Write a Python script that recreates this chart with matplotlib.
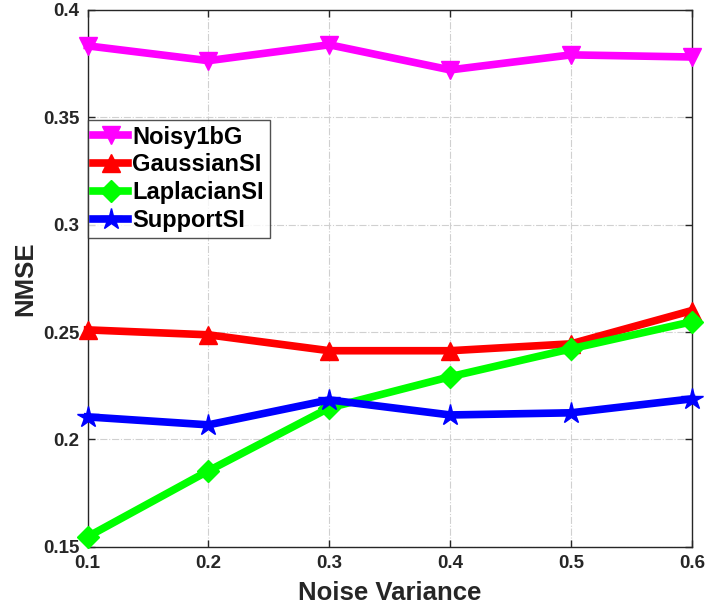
import matplotlib
matplotlib.use("Agg")
import matplotlib.pyplot as plt

x = [0.1, 0.2, 0.3, 0.4, 0.5, 0.6]
noisy1bg = [0.3832, 0.3763, 0.3837, 0.3720, 0.3790, 0.3780]
gaussian_si = [0.2510, 0.2487, 0.2413, 0.2413, 0.2445, 0.2600]
laplacian_si = [0.1547, 0.1854, 0.2147, 0.2292, 0.2422, 0.2548]
support_si = [0.2105, 0.2068, 0.2184, 0.2114, 0.2124, 0.2189]
labels = ["Noisy1bG", "GaussianSI", "LaplacianSI", "SupportSI"]
xticks = [0.1, 0.2, 0.3, 0.4, 0.5, 0.6]
yticks = [0.15, 0.2, 0.25, 0.3, 0.35, 0.4]

plt.rcParams['font.family'] = ['Liberation Sans', 'DejaVu Sans']
plt.rcParams['font.weight'] = 'bold'

fig = plt.figure(figsize=(7.06, 6.09), dpi=100)
ax = fig.add_axes([0.124, 0.102, 0.856, 0.882])

series = [noisy1bg, gaussian_si, laplacian_si, support_si]
colors = ['#ff00ff', '#ff0000', '#00ff00', '#0000ff']
markers = ['v', '^', 'D', '*']
msizes = [13, 13, 11, 16]
for s, c, m, ms, lab in zip(series, colors, markers, msizes, labels):
    ax.plot(x, s, color=c, marker=m, markersize=ms, linewidth=5.5,
            markeredgecolor=c, label=lab, clip_on=False, zorder=3)

ax.set_xlim(0.1, 0.6)
ax.set_ylim(0.15, 0.4)
ax.set_xticks(xticks)
ax.set_xticklabels([f"{t:g}" for t in xticks])
ax.set_yticks(yticks)
ax.set_yticklabels([f"{t:g}" for t in yticks])
ax.tick_params(direction='in', length=5, width=1, labelsize=13.5,
               colors='#262626', top=True, right=True, pad=6)
for lab in ax.get_xticklabels() + ax.get_yticklabels():
    lab.set_fontweight('bold')
ax.grid(True, color='#d0d0d0', linestyle='-.', linewidth=0.8)
for sp in ax.spines.values():
    sp.set_color('#262626')
    sp.set_linewidth(1)

ax.set_xlabel("Noise Variance", fontsize=18.5, fontweight='bold', color='#262626', labelpad=6)
ax.set_ylabel("NMSE", fontsize=18.5, fontweight='bold', color='#262626', labelpad=4)

leg = ax.legend(loc='upper left', bbox_to_anchor=(0.0, 0.795),
                prop={'weight': 'bold', 'size': 17}, frameon=True, fancybox=False,
                edgecolor='#262626', handlelength=1.45, handletextpad=0.2,
                borderpad=0.25, labelspacing=0.2, borderaxespad=0.0)
leg.get_frame().set_linewidth(1)
for t in leg.get_texts():
    t.set_color('black')

fig.savefig("out.png", dpi=100)
